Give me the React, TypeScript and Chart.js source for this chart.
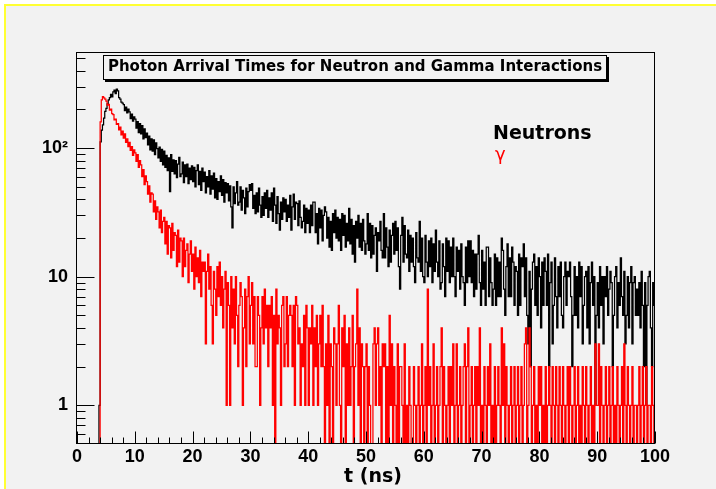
import React, { useEffect, useRef } from "react";
import { Chart, registerables } from "chart.js";

Chart.register(...registerables);

// ---------- texts ----------
const TITLE = "Photon Arrival Times for Neutron and Gamma Interactions";
const X_AXIS_TITLE = "t (ns)";
const LEGEND_LABELS = ["Neutrons", "γ"];

// ---------- axes ----------
const BIN_WIDTH_NS = 0.2;
const X_RANGE = [0, 100];
const Y_RANGE = [0.5, 550];
const X_MAJOR_STEP = 10;
const X_MINOR_STEP = 2;
const Y_LABELED_TICKS = [1, 10, 100];
const Y_TICK_LABELS = ["1", "10", "10²"];
const Y_MINOR_TICKS = [0.6, 0.7, 0.8, 0.9, 2, 3, 4, 5, 6, 7, 8, 9, 20, 30, 40, 50, 60, 70, 80, 90, 200, 300, 400, 500];

// ---------- histogram contents (counts per 0.2 ns bin, 0 .. 100 ns; one row = 10 ns) ----------
const neutronCounts = [
  0, 0, 0, 0, 0, 0, 0, 0, 0, 0, 0, 0, 0, 0, 0, 0, 0, 0, 0, 1, 112, 138, 152, 171, 193, 204, 221, 238, 247, 262, 251, 274, 283, 266, 288, 279, 247, 241, 228, 224, 218, 196, 209, 188, 201, 192, 170, 184, 162, 175,
  168, 143, 161, 132, 155, 129, 150, 118, 141, 121, 131, 106, 124, 97, 118, 95, 116, 89, 110, 99, 84, 102, 79, 98, 74, 95, 71, 88, 67, 84, 46, 89, 66, 81, 63, 80, 59, 75, 85, 60, 63, 78, 54, 74, 60, 75, 53, 70, 57, 73,
  55, 71, 50, 67, 74, 52, 66, 47, 70, 55, 65, 45, 60, 50, 67, 44, 61, 48, 64, 41, 58, 40, 55, 46, 61, 43, 57, 38, 54, 45, 53, 39, 51, 35, 24, 50, 37, 45, 55, 36, 38, 50, 33, 47, 41, 31, 49, 35, 46, 52,
  47, 53, 34, 43, 31, 45, 32, 49, 36, 29, 42, 30, 45, 34, 47, 29, 41, 33, 45, 27, 49, 36, 26, 42, 31, 23, 38, 28, 41, 32, 40, 27, 36, 29, 43, 23, 35, 44, 28, 38, 37, 25, 39, 29, 24, 27, 36, 22, 34, 26,
  33, 22, 36, 25, 38, 38, 22, 31, 18, 34, 24, 33, 19, 30, 35, 32, 20, 29, 17, 27, 16, 31, 22, 33, 20, 29, 19, 28, 16, 31, 21, 30, 17, 26, 19, 34, 18, 28, 15, 25, 13, 27, 20, 30, 17, 26, 16, 28, 19, 15,
  18, 31, 16, 26, 14, 25, 15, 21, 24, 11, 22, 19, 27, 16, 14, 31, 14, 24, 17, 12, 23, 13, 21, 26, 15, 27, 16, 24, 12, 8, 21, 29, 13, 25, 15, 14, 23, 11, 21, 13, 20, 12, 9, 22, 14, 13, 27, 11, 20, 10,
  9, 21, 13, 10, 19, 12, 20, 9, 18, 11, 23, 13, 10, 19, 8, 9, 18, 12, 7, 20, 11, 19, 9, 17, 10, 20, 10, 7, 17, 11, 16, 8, 18, 10, 9, 6, 17, 9, 19, 10, 19, 9, 16, 7, 15, 8, 15, 21, 9, 6,
  16, 8, 13, 6, 17, 17, 7, 14, 9, 6, 8, 15, 6, 14, 7, 13, 7, 20, 16, 8, 5, 12, 18, 7, 14, 7, 17, 13, 6, 12, 11, 5, 15, 6, 14, 12, 18, 7, 14, 5, 3, 11, 2, 8, 13, 15, 6, 12, 5, 14,
  10, 4, 13, 6, 14, 11, 6, 15, 2, 9, 13, 3, 6, 14, 7, 4, 12, 7, 13, 5, 4, 10, 13, 6, 11, 10, 13, 7, 2, 5, 12, 5, 10, 4, 13, 7, 12, 3, 6, 10, 11, 4, 12, 3, 9, 13, 6, 10, 1, 5,
  9, 4, 12, 6, 10, 3, 10, 7, 12, 5, 8, 11, 9, 2, 5, 10, 12, 4, 9, 6, 14, 7, 5, 11, 3, 5, 10, 4, 9, 12, 3, 9, 10, 5, 8, 5, 9, 4, 11, 6, 2, 9, 1, 6, 10, 11, 4, 2, 9, 6,
];

const gammaCounts = [
  0, 0, 0, 0, 0, 0, 0, 0, 0, 0, 0, 0, 0, 0, 0, 0, 0, 0, 0, 0, 160, 238, 252, 246, 241, 232, 216, 219, 198, 201, 186, 182, 166, 168, 153, 155, 139, 146, 127, 136, 120, 129, 111, 118, 103, 111, 96, 103, 88, 97,
  92, 79, 89, 71, 80, 74, 60, 68, 52, 61, 55, 44, 51, 38, 45, 44, 32, 39, 28, 35, 32, 24, 33, 22, 27, 29, 18, 27, 15, 25, 24, 14, 26, 16, 22, 21, 12, 23, 13, 20, 19, 10, 20, 12, 16, 18, 9, 15, 19, 11,
  15, 8, 17, 10, 14, 9, 16, 7, 13, 11, 13, 3, 11, 15, 8, 12, 6, 3, 11, 8, 5, 12, 7, 13, 6, 10, 4, 8, 11, 1, 9, 6, 1, 10, 4, 8, 3, 10, 5, 2, 6, 9, 7, 1, 4, 8, 2, 7, 10, 3,
  6, 9, 3, 7, 2, 2, 7, 5, 1, 4, 7, 3, 8, 4, 6, 2, 6, 4, 7, 1, 5, 0, 8, 3, 5, 4, 1, 6, 7, 2, 3, 7, 2, 5, 6, 5, 2, 6, 1, 7, 6, 3, 4, 1, 3, 2, 5, 1, 6, 4,
  1, 4, 3, 6, 1, 4, 2, 5, 1, 3, 5, 2, 6, 2, 0, 3, 1, 5, 0, 3, 2, 0, 4, 3, 1, 3, 6, 1, 0, 4, 2, 5, 0, 3, 1, 4, 1, 2, 5, 0, 2, 3, 8, 1, 4, 0, 3, 2, 0, 2,
  3, 0, 2, 1, 0, 0, 3, 4, 1, 3, 4, 1, 2, 0, 3, 2, 3, 0, 2, 0, 5, 1, 3, 0, 2, 1, 0, 3, 0, 2, 2, 1, 0, 3, 0, 1, 0, 2, 1, 0, 0, 2, 1, 0, 1, 2, 0, 1, 3, 0,
  1, 2, 0, 8, 1, 2, 0, 1, 3, 0, 1, 2, 0, 1, 2, 4, 0, 2, 1, 0, 1, 2, 0, 2, 1, 3, 0, 1, 3, 0, 1, 2, 0, 1, 2, 3, 0, 2, 4, 0, 1, 2, 0, 1, 2, 0, 2, 1, 4, 0,
  1, 0, 2, 1, 0, 2, 1, 3, 0, 1, 0, 2, 0, 1, 2, 1, 0, 4, 1, 3, 0, 2, 1, 0, 1, 2, 0, 1, 2, 0, 1, 2, 0, 1, 2, 0, 1, 3, 4, 0, 1, 4, 2, 0, 1, 2, 0, 1, 0, 2,
  1, 2, 0, 1, 0, 2, 0, 1, 2, 1, 0, 2, 1, 0, 2, 1, 0, 2, 1, 0, 2, 1, 0, 1, 2, 0, 2, 1, 0, 1, 2, 0, 1, 2, 0, 1, 0, 2, 1, 0, 2, 1, 0, 1, 2, 0, 1, 0, 3, 1,
  1, 3, 0, 2, 1, 0, 1, 2, 0, 1, 2, 0, 1, 2, 0, 1, 0, 2, 1, 0, 1, 2, 0, 3, 1, 0, 2, 1, 0, 1, 2, 0, 1, 1, 0, 1, 2, 0, 1, 2, 0, 1, 2, 0, 1, 1, 0, 2, 1, 0,
];

// Histogram -> step points at bin left edges (plus closing edge). Empty bins sit on the axis floor.
function toStepPoints(counts: number[]) {
  const pts = counts.map((c, i) => ({ x: X_RANGE[0] + i * BIN_WIDTH_NS, y: Math.max(c, Y_RANGE[0]) }));
  pts.push({ x: X_RANGE[0] + counts.length * BIN_WIDTH_NS, y: Math.max(counts[counts.length - 1], Y_RANGE[0]) });
  return pts;
}

const TICK_FONT = { family: "'Liberation Sans', Arial, sans-serif", size: 18, weight: "bold" as const };

const backgroundPlugin = {
  id: "rootBackground",
  beforeDraw(chart: any) {
    const { ctx, width, height } = chart;
    ctx.save();
    ctx.fillStyle = "#ffffff";
    ctx.fillRect(0, 0, width, height);
    ctx.fillStyle = "#f2f2f2";
    ctx.fillRect(4, 4, width - 4, height - 4);
    ctx.fillStyle = "#ffff33";
    ctx.fillRect(4, 4, width - 4, 2);
    ctx.fillRect(4, 4, 2, height - 4);
    ctx.restore();
  },
};

const framePlugin = {
  id: "rootFrame",
  afterDatasetsDraw(chart: any) {
    const { ctx, chartArea: a, scales } = chart;
    const xs = scales.x;
    const ys = scales.y;
    const L = Math.round(a.left) - 0.5;
    const R = Math.round(a.right) - 0.5;
    const T = Math.round(a.top) - 0.5;
    const B = Math.round(a.bottom) - 0.5;
    ctx.save();
    ctx.strokeStyle = "#000000";
    ctx.lineWidth = 1;
    ctx.strokeRect(L, T, R - L, B - T);
    ctx.beginPath();
    const nMinor = Math.round((X_RANGE[1] - X_RANGE[0]) / X_MINOR_STEP);
    const perMajor = Math.round(X_MAJOR_STEP / X_MINOR_STEP);
    for (let i = 0; i <= nMinor; i++) {
      const v = X_RANGE[0] + i * X_MINOR_STEP;
      const px = Math.round(xs.getPixelForValue(v)) + 0.5;
      const len = i % perMajor === 0 ? 12 : 6;
      ctx.moveTo(px, B);
      ctx.lineTo(px, B - len);
    }
    for (const v of Y_LABELED_TICKS) {
      const py = Math.round(ys.getPixelForValue(v)) + 0.5;
      ctx.moveTo(L, py);
      ctx.lineTo(L + 18, py);
    }
    for (const v of Y_MINOR_TICKS) {
      const py = Math.round(ys.getPixelForValue(v)) + 0.5;
      ctx.moveTo(L, py);
      ctx.lineTo(L + 9, py);
    }
    ctx.stroke();
    ctx.restore();
  },
  afterDraw(chart: any) {
    const { ctx, chartArea: a } = chart;
    ctx.save();
    // title box with shadow
    const bx = 103, by = 55, bw = 504, bh = 25;
    ctx.fillStyle = "#000000";
    ctx.fillRect(bx + 2, by + 2, bw, bh);
    ctx.fillStyle = "#f2f2f2";
    ctx.fillRect(bx, by, bw, bh);
    ctx.strokeStyle = "#000000";
    ctx.lineWidth = 1;
    ctx.strokeRect(bx + 0.5, by + 0.5, bw - 1, bh - 1);
    ctx.fillStyle = "#000000";
    ctx.font = "bold 15px 'DejaVu Sans', sans-serif";
    ctx.textAlign = "center";
    ctx.textBaseline = "alphabetic";
    ctx.fillText(TITLE, bx + bw / 2, 71);
    // x axis title
    ctx.font = "bold 19px 'DejaVu Sans', sans-serif";
    ctx.fillText(X_AXIS_TITLE, (a.left + a.right) / 2 + 7, 482);
    // legend texts
    ctx.textAlign = "left";
    ctx.font = "bold 19px 'DejaVu Sans', sans-serif";
    ctx.fillStyle = "#000000";
    ctx.fillText(LEGEND_LABELS[0], 493, 138.5);
    ctx.font = "18px 'DejaVu Sans', sans-serif";
    ctx.fillStyle = "#ff0000";
    ctx.fillText(LEGEND_LABELS[1], 495, 160);
    ctx.restore();
  },
};

export default function App() {
  const canvasRef = useRef<HTMLCanvasElement | null>(null);

  useEffect(() => {
    if (!canvasRef.current) return;
    const chart = new Chart(canvasRef.current, {
      type: "line",
      data: {
        datasets: [
          {
            label: LEGEND_LABELS[1],
            data: toStepPoints(gammaCounts),
            borderColor: "#ff0000",
            backgroundColor: "#ff0000",
            borderWidth: 1.25,
            pointRadius: 0,
            stepped: true,
            fill: false,
            order: 0,
          },
          {
            label: LEGEND_LABELS[0],
            data: toStepPoints(neutronCounts),
            borderColor: "#000000",
            backgroundColor: "#000000",
            borderWidth: 1.25,
            pointRadius: 0,
            stepped: true,
            fill: false,
            order: 1,
          },
        ],
      },
      options: {
        animation: false,
        responsive: false,
        devicePixelRatio: 1,
        layout: { padding: { left: 0, right: 61, top: 53, bottom: 0 } },
        plugins: {
          legend: { display: false },
          tooltip: { enabled: false },
          title: { display: false },
        },
        scales: {
          x: {
            type: "linear",
            min: X_RANGE[0],
            max: X_RANGE[1],
            grid: { display: false, drawTicks: false },
            border: { display: false },
            ticks: {
              stepSize: X_MAJOR_STEP,
              font: TICK_FONT,
              color: "#000000",
              padding: 2,
              maxRotation: 0,
              autoSkip: false,
              callback: (v: any) => String(v),
            },
            title: { display: false },
            afterFit: (s: any) => {
              s.height = 45;
            },
          },
          y: {
            type: "logarithmic",
            min: Y_RANGE[0],
            max: Y_RANGE[1],
            grid: { display: false, drawTicks: false },
            border: { display: false },
            afterBuildTicks: (s: any) => {
              s.ticks = Y_LABELED_TICKS.map((v) => ({ value: v }));
            },
            ticks: {
              font: TICK_FONT,
              color: "#000000",
              padding: 9,
              autoSkip: false,
              callback: (v: any) => {
                const i = Y_LABELED_TICKS.indexOf(Number(v));
                return i >= 0 ? Y_TICK_LABELS[i] : "";
              },
            },
            afterFit: (s: any) => {
              s.width = 77;
            },
          },
        },
      },
      plugins: [backgroundPlugin, framePlugin],
    } as any);
    return () => chart.destroy();
  }, []);

  return (
    <div style={{ position: "fixed", left: 0, top: 0, width: 716, height: 489, background: "#ffffff" }}>
      <canvas ref={canvasRef} width={716} height={489} style={{ display: "block", width: 716, height: 489 }} />
    </div>
  );
}
